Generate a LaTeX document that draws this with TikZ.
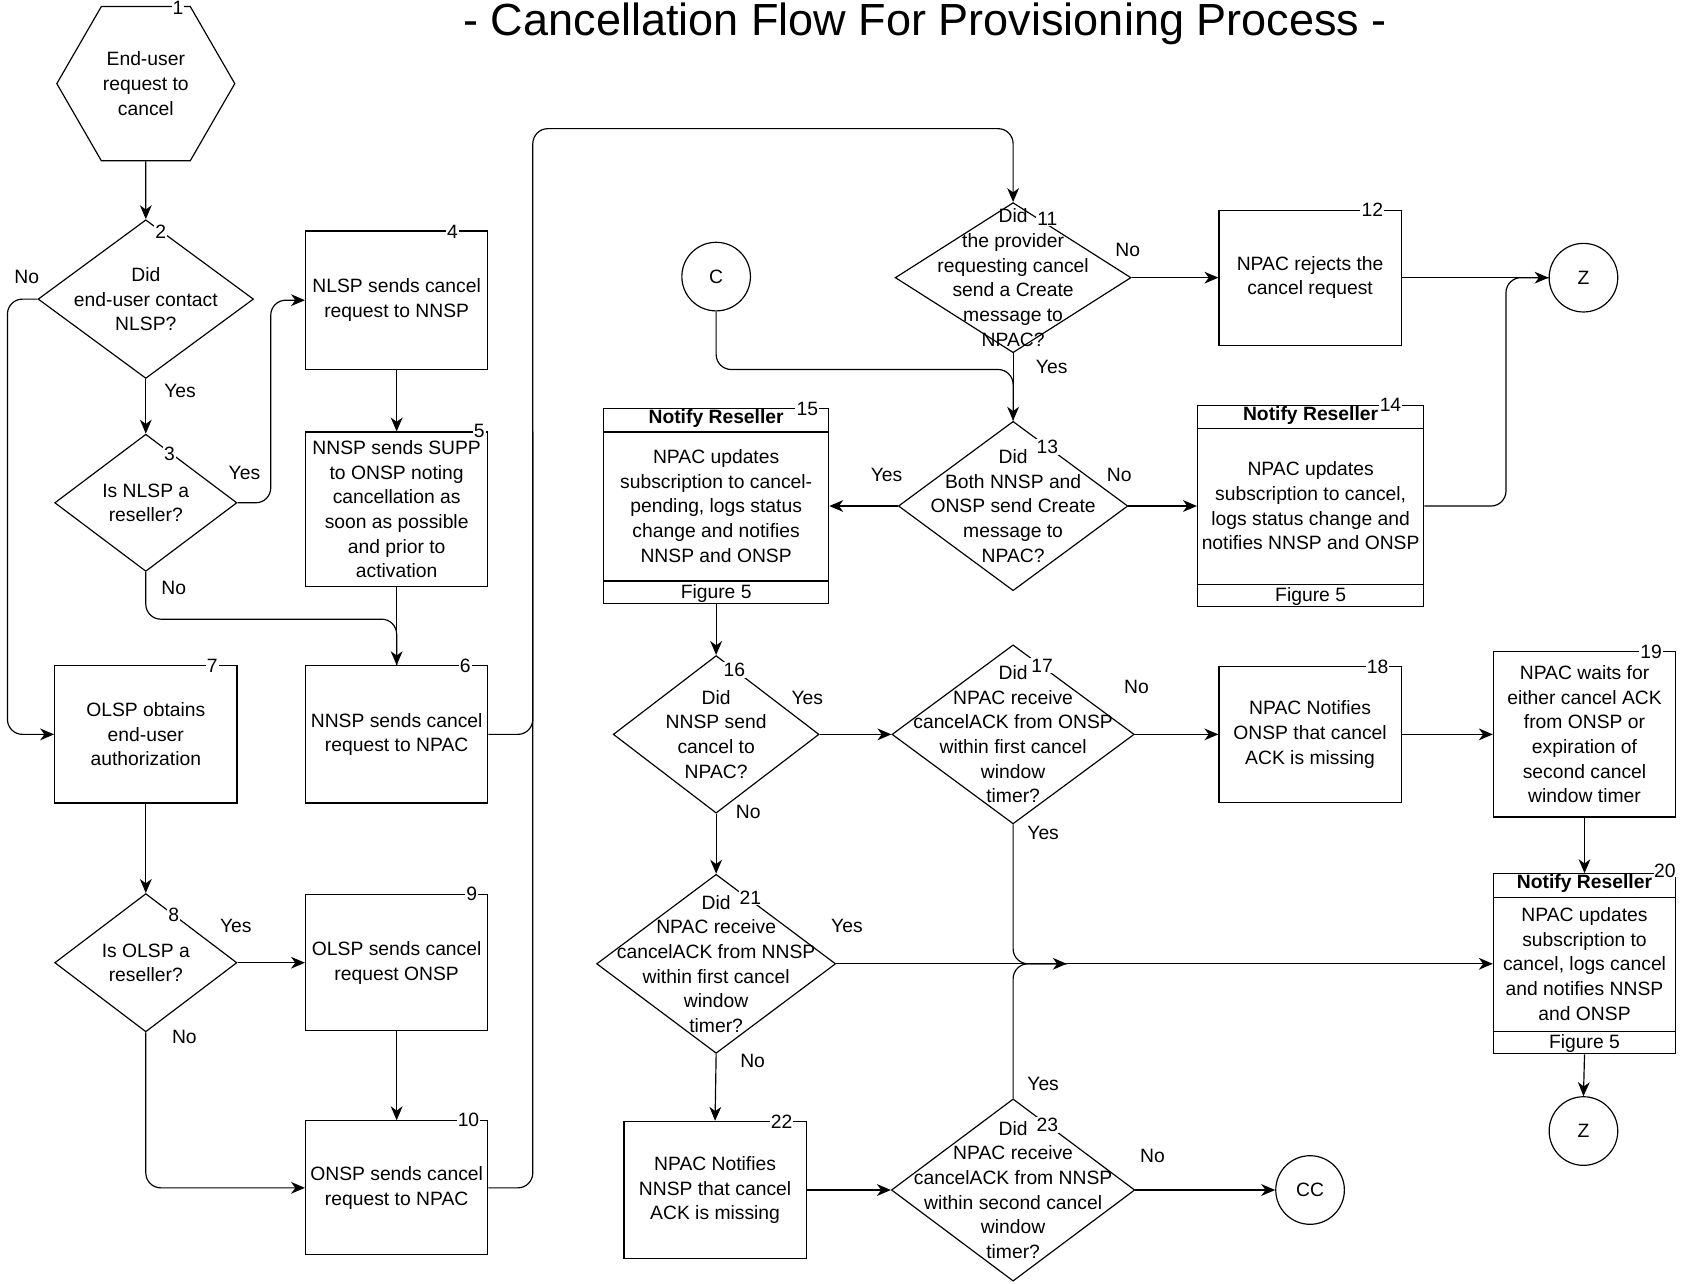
\documentclass[tikz,border=0pt]{standalone}
\usepackage{fontspec}
\setmainfont{Liberation Sans}
\usetikzlibrary{arrows.meta,calc,positioning,shapes.geometric}
\newcommand{\flowfont}{\fontsize{18}{23}\selectfont}
\tikzset{
>={Stealth[length=13pt,width=11pt,inset=4pt]},
  terminal/.style={
    regular polygon,
    regular polygon sides=6,
    draw=black,
    minimum size=166pt,
    inner sep=0pt,
    align=center,
    font=\flowfont},
  process/.style={
    rectangle,
    draw=black,
    minimum width=170pt,
    minimum height=#1,
    inner sep=0pt,
    align=center,
    font=\flowfont},
  process/.default=128pt,
  decision/.style 2 args={
    diamond,
    draw=black,
    inner sep=0pt,
    minimum width=#1,
    minimum height=#2},
  question/.style={align=center, font=\flowfont, inner sep=0pt},
  reseller/.style 2 args={
    rectangle,
    draw=black,
    minimum width=#1,
    minimum height=#2,
    inner sep=0pt,
    align=center,
    font=\flowfont,
    path picture={
      \draw ([yshift=-22pt]path picture bounding box.north west)
        -- ([yshift=-22pt]path picture bounding box.north east);
      \draw ([yshift=21pt]path picture bounding box.south west)
        -- ([yshift=21pt]path picture bounding box.south east);
    },
    label={[anchor=north, inner sep=1pt, font=\flowfont\bfseries]north:Notify Reseller},
    label={[anchor=south, inner sep=1pt, font=\flowfont]south:Figure 5}},
  connector/.style={circle, draw=black, minimum size=64pt, inner sep=0pt, font=\flowfont},
  stepno/.style={fill=white, inner sep=1pt, font=\flowfont},
  answer/.style={font=\flowfont, inner sep=0pt},
  merge/.style={rounded corners=14pt},
}

\begin{document}
\begin{tikzpicture}[x=1pt, y=-1pt, line width=1.1pt]
    \useasboundingbox (0,0) rectangle (1568,1197);
    \node[font=\fontsize{42}{48}\selectfont, anchor=base] (title) at (863,33)
        {- Cancellation Flow For Provisioning Process -};

    % left column
    \node[terminal] (start) at (136,78) {End-user\\request to\\cancel};
    \node[decision={201pt}{148pt}, label={[question]center:{Did\\end-user contact\\NLSP?}}]
        (d2) at (136,279) {};
    \node[decision={170pt}{128pt}, label={[question]center:{Is NLSP a\\reseller?}}]
        (d3) at (136,469) {};
    \node[process] (b7) at (136,685) {OLSP obtains\\end-user\\authorization};
    \node[decision={170pt}{129pt}, label={[question]center:{Is OLSP a\\reseller?}}]
        (d8) at (136,898) {};

    % middle column
    \node[process=129pt] (b4) at (370,280) {NLSP sends cancel\\request to NNSP};
    \node[process=144pt] (b5) at (370,475)
        {NNSP sends SUPP\\to ONSP noting\\cancellation as\\soon as possible\\and prior to\\activation};
    \node[process] (b6) at (370,685) {NNSP sends cancel\\request to NPAC};
    \node[process=127pt] (b9) at (370,898) {OLSP sends cancel\\request ONSP};
    \node[process=125pt] (b10) at (370,1108) {ONSP sends cancel\\request to NPAC};

    % upper right
    \node[connector] (c) at (668,258) {C};
    \node[decision={220pt}{140pt}, label={[question]center:{Did\\the provider\\requesting cancel\\send a Create\\message to\\NPAC?}}]
        (d11) at (945,259) {};
    \node[process=126pt] (b12) at (1222,259) {NPAC rejects the\\cancel request};
    \node[connector] (z1) at (1477,259) {Z};
    \node[decision={214pt}{158pt}, label={[question]center:{Did\\Both NNSP and\\ONSP send Create\\message to\\NPAC?}}]
        (d13) at (945,472) {};
    \node[reseller={210pt}{182pt}] (b15) at (668,472)
        {NPAC updates\\subscription to cancel-\\pending, logs status\\change and notifies\\NNSP and ONSP};
    \node[reseller={211pt}{188pt}] (b14) at (1222.5,472)
        {NPAC updates\\subscription to cancel,\\logs status change and\\notifies NNSP and ONSP};

    % lower right
    \node[decision={192pt}{147pt}, label={[question]center:{Did\\NNSP send\\cancel to\\NPAC?}}]
        (d16) at (668,685) {};
    \node[decision={226pt}{167pt}, label={[question]center:{Did\\NPAC receive\\cancelACK from ONSP\\within first cancel\\window\\timer?}}]
        (d17) at (945,685) {};
    \node[process=127pt] (b18) at (1222,685) {NPAC Notifies\\ONSP that cancel\\ACK is missing};
    \node[process=154pt] (b19) at (1478,685)
        {NPAC waits for\\either cancel ACK\\from ONSP or\\expiration of\\second cancel\\window timer};
    \node[reseller={170pt}{168pt}] (b20) at (1478,899)
        {NPAC updates\\subscription to\\cancel, logs cancel\\and notifies NNSP\\and ONSP};
    \node[connector] (z2) at (1477,1055) {Z};
    \node[decision={223pt}{167pt}, label={[question]center:{Did\\NPAC receive\\cancelACK from NNSP\\within first cancel\\window\\timer?}}]
        (d21) at (668,899) {};
    \node[process] (b22) at (667,1110) {NPAC Notifies\\NNSP that cancel\\ACK is missing};
    \node[decision={227pt}{170pt}, label={[question]center:{Did\\NPAC receive\\cancelACK from NNSP\\within second cancel\\window\\timer?}}]
        (d23) at (945,1110) {};
    \node[connector] (cc) at (1222,1110) {CC};

    % connectors
    \coordinate (busup) at (497,120);
    \coordinate (merge) at (995,899);
    \draw[->] (start.south) -- (d2.north);
    \draw[->, merge] (d2.west) -- ++(-28,0) |- (b7.west);
    \draw[->] (d2.south) -- (d3.north);
    \draw[->, merge] (d3.east) -- ++(31,0) |- (b4.west);
    \draw[->] (b4.south) -- (b5.north);
    \draw[->] (b5.south) -- (b6.north);
    \draw[merge] (d3.south) -- ++(0,44) -| (b6.north);
    \draw[->] (b7.south) -- (d8.north);
    \draw[->] (d8.east) -- (b9.west);
    \draw[->] (b9.south) -- (b10.north);
    \draw[->, merge] (d8.south) |- (b10.west);
    \draw[->, merge] (b6.east) -| (busup) -| (d11.north);
    \draw[merge] (b10.east) -| ($(busup)!0.5!(b6.east -| busup)$);
    \draw[->] (d11.east) -- (b12.west);
    \draw[->] (b12.east) -- (z1.west);
    \draw[->] (d11.south) -- (d13.north);
    \draw[merge] (c.south) |- ($(d11.south)!0.24!(d13.north)$) -- (d13.north);
    \draw[->] (d13.west) -- (b15.east);
    \draw[->] (d13.east) -- (b14.west);
    \draw[merge] (b14.east) -| ($(b12.east)!0.71!(z1.west)$) -- (z1.west);
    \draw[->] (b15.south) -- (d16.north);
    \draw[->] (d16.east) -- (d17.west);
    \draw[->] (d17.east) -- (b18.west);
    \draw[->] (b18.east) -- (b19.west);
    \draw[->] (b19.south) -- (b20.north);
    \draw[->] (b20.south) -- (z2.north);
    \draw[->] (d16.south) -- (d21.north);
    \draw[->] (d21.east) -- (merge);
    \draw[->] (merge) -- (b20.west);
    \draw[merge] (d17.south) |- (merge);
    \draw[merge] (d23.north) |- (merge);
    \draw[->] (d21.south) -- (b22.north);
    \draw[->] (b22.east) -- (d23.west);
    \draw[->] (d23.east) -- (cc.west);

    % answers
    \node[answer] (no2) at (25,258) {No};
    \node[answer] (yes2) at (168,365) {Yes};
    \node[answer] (yes3) at (228,441) {Yes};
    \node[answer] (no3) at (162,548) {No};
    \node[answer] (yes8) at (220,864) {Yes};
    \node[answer] (no8) at (172,967) {No};
    \node[answer] (no11) at (1052,233) {No};
    \node[answer] (yes11) at (981,342) {Yes};
    \node[answer] (yes13) at (827,443) {Yes};
    \node[answer] (no13) at (1044,443) {No};
    \node[answer] (yes16) at (753,651) {Yes};
    \node[answer] (no16) at (698,757) {No};
    \node[answer] (no17) at (1060,641) {No};
    \node[answer] (yes17) at (973,777) {Yes};
    \node[answer] (yes21) at (790,864) {Yes};
    \node[answer] (no21) at (702,990) {No};
    \node[answer] (yes23) at (973,1011) {Yes};
    \node[answer] (no23) at (1075,1078) {No};

    % step numbers
    \node[stepno] (n1) at (166,7) {1};
    \node[stepno] (n2) at (150,216) {2};
    \node[stepno] (n3) at (158,423) {3};
    \node[stepno] (n4) at (422,216) {4};
    \node[stepno] (n5) at (447,402) {5};
    \node[stepno] (n6) at (434,621) {6};
    \node[stepno] (n7) at (198,621) {7};
    \node[stepno] (n8) at (162,853) {8};
    \node[stepno] (n9) at (440,834) {9};
    \node[stepno] (n10) at (437,1045) {10};
    \node[stepno] (n11) at (977,204) {11};
    \node[stepno] (n12) at (1280,196) {12};
    \node[stepno] (n13) at (977,417) {13};
    \node[stepno] (n14) at (1297,378) {14};
    \node[stepno] (n15) at (753,381) {15};
    \node[stepno] (n16) at (685,625) {16};
    \node[stepno] (n17) at (972,621) {17};
    \node[stepno] (n18) at (1285,622) {18};
    \node[stepno] (n19) at (1540,608) {19};
    \node[stepno, inner sep=0pt] (n20) at (1553,812) {20};
    \node[stepno] (n21) at (700,837) {21};
    \node[stepno] (n22) at (729,1046) {22};
    \node[stepno] (n23) at (977,1049) {23};
\end{tikzpicture}
\end{document}
